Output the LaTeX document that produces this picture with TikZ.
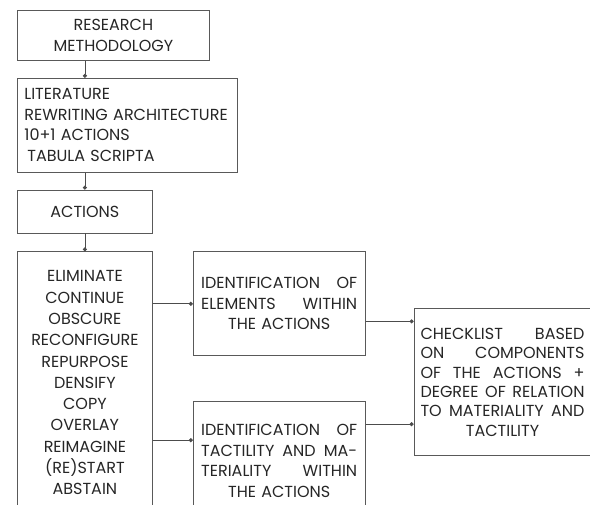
\documentclass[tikz,border=0pt]{standalone}
\usepackage{fontspec}
\setmainfont{Poppins}
\usetikzlibrary{positioning, arrows.meta}
\newcommand{\spreadline}[1]{\leavevmode\hbox to\hsize{\spaceskip=0.25em plus 1fil minus 0.05em\relax #1}}

\begin{document}
\begin{tikzpicture}[x=1pt, y=-1pt,
     node distance = 17pt and 40pt,
        box/.style = {rectangle, draw=black!65, line width=0.8pt, inner sep=0pt, align=center,
                      font=\fontsize{16}{20.5}\selectfont, text=black!85},
       link/.style = {draw=black!70, line width=0.8pt, -{Circle[length=4pt]}}
                        ]
\useasboundingbox (0,0) rectangle (590,505);
\clip (0,0) rectangle (590,505);
\node (method) [box, minimum width=192pt, minimum height=50pt, anchor=north west] at (17,10) {RESEARCH\\METHODOLOGY};
\node (lit)    [box, below=of method.south west, anchor=north west, minimum width=220pt, minimum height=94pt,
                text width=206pt, align=left] {LITERATURE\\REWRITING ARCHITECTURE\\10+1 ACTIONS\\\hspace{3pt}TABULA SCRIPTA};
\node (acts)   [box, below=of lit.south west, anchor=north west, minimum width=135pt, minimum height=43pt] {ACTIONS};
\node (list)   [box, below=18pt of acts.south west, anchor=north west, minimum width=135pt, minimum height=262pt,
                font=\fontsize{16}{21.3}\selectfont] {ELIMINATE\\CONTINUE\\OBSCURE\\RECONFIGURE\\REPURPOSE\\DENSIFY\\COPY\\OVERLAY\\REIMAGINE\\(RE)START\\ABSTAIN};
\node (elem)   [box, right=of list.north east, anchor=north west, minimum width=172pt, minimum height=104pt,
                text width=156pt] {\spreadline{IDENTIFICATION OF}\\\spreadline{ELEMENTS WITHIN}\\THE ACTIONS};
\node (tact)   [box, below=45pt of elem.south west, anchor=north west, minimum width=172pt, minimum height=119pt,
                text width=156pt] {\spreadline{IDENTIFICATION OF}\\\spreadline{TACTILITY AND MA-}\\\spreadline{TERIALITY WITHIN}\\THE ACTIONS};
\node (check)  [box, below right=57pt and 48pt of elem.north east, anchor=north west, minimum width=177pt, minimum height=147pt,
                text width=164pt, font=\fontsize{16}{19.3}\selectfont] {\spreadline{CHECKLIST BASED}\\\spreadline{ON COMPONENTS}\\\spreadline{OF THE ACTIONS +}\\\spreadline{DEGREE OF RELATION}\\\spreadline{TO MATERIALITY AND}\\TACTILITY\\[-8pt]};
\coordinate (t1) at ([yshift=-39pt]tact.north west);
\coordinate (e1) at ([yshift=-70pt]elem.north east);
\coordinate (t2) at ([yshift=-23pt]tact.north east);
\draw[link] (method.south -| acts) -- (lit.north -| acts);
\draw[link] (lit.south -| acts) -- (acts.north);
\draw[link] (acts.south) -- (list.north);
\draw[link] (list.east |- elem) -- (elem.west);
\draw[link] (list.east |- t1) -- (t1);
\draw[link] (e1) -- (e1 -| check.west);
\draw[link] (t2) -- (t2 -| check.west);
\end{tikzpicture}
\end{document}
